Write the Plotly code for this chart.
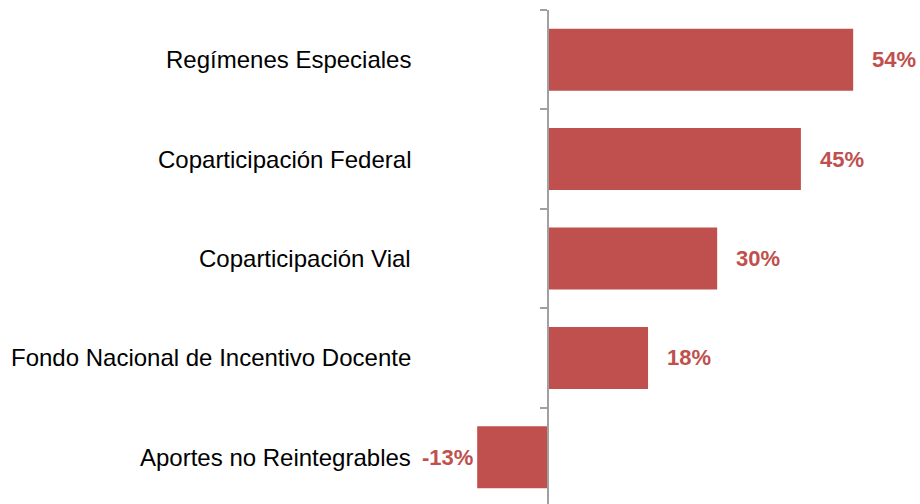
import plotly.graph_objects as go

categories = [
    "Regímenes Especiales",
    "Coparticipación Federal",
    "Coparticipación Vial",
    "Fondo Nacional de Incentivo Docente",
    "Aportes no Reintegrables",
]
values = [54.3, 45.0, 30.1, 17.8, -12.6]
value_labels = [f"{round(v):d}%" for v in values]

BAR_COLOR = "#C0504D"
AXIS_COLOR = "#A0A0A0"
W, H = 920, 504
ZERO_PX = 548
LABEL_RIGHT_PX = 413
PX_PER_UNIT = 5.62

ypos = list(range(len(categories)))

fig = go.Figure()
fig.add_trace(go.Bar(
    x=values, y=ypos, orientation="h",
    marker=dict(color=BAR_COLOR, line=dict(width=0)),
    width=0.624, hoverinfo="skip",
))

annotations = []
for i, (c, v, t) in enumerate(zip(categories, values, value_labels)):
    annotations.append(dict(
        x=LABEL_RIGHT_PX / W, xref="paper", y=i, yref="y", text=c, showarrow=False,
        xanchor="right", yanchor="middle",
        font=dict(family="Liberation Sans, Arial, sans-serif", size=24, color="#000000"),
    ))
    annotations.append(dict(
        x=v, xref="x", y=i, yref="y", text=t, showarrow=False,
        xanchor="left" if v >= 0 else "right", yanchor="middle",
        xshift=17 if v >= 0 else -2,
        font=dict(family="Liberation Sans, Arial, sans-serif", size=22, color=BAR_COLOR, weight="bold"),
    ))

fig.update_layout(
    width=W, height=H,
    margin=dict(l=0, r=0, t=10, b=0),
    paper_bgcolor="white", plot_bgcolor="white",
    showlegend=False,
    annotations=annotations,
    xaxis=dict(
        range=[-ZERO_PX / PX_PER_UNIT, (W - ZERO_PX) / PX_PER_UNIT],
        visible=False, showgrid=False, zeroline=False, fixedrange=True,
    ),
    yaxis=dict(
        range=[4.47, -0.5],
        anchor="free", position=ZERO_PX / W,
        showline=True, linecolor=AXIS_COLOR, linewidth=2,
        showgrid=False, zeroline=False,
        tickmode="array", tickvals=[-0.5, 0.5, 1.5, 2.5, 3.5],
        ticks="outside", ticklen=7, tickwidth=2, tickcolor=AXIS_COLOR,
        showticklabels=False, fixedrange=True,
    ),
)

fig.write_html(
    "out.html",
    config={"displayModeBar": False, "staticPlot": True},
    post_script="document.body.style.margin='0';document.body.style.overflow='hidden';",
)
